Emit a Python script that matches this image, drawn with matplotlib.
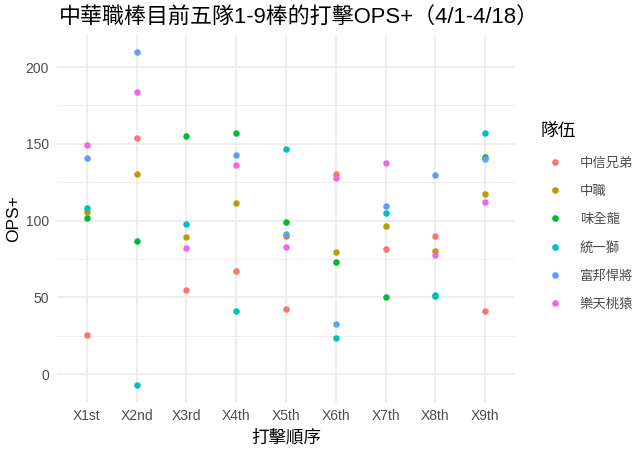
import matplotlib
matplotlib.use("Agg")
import matplotlib.pyplot as plt
from matplotlib.lines import Line2D

FONTS = ['Liberation Sans', 'Noto Sans CJK TC', 'DejaVu Sans']
plt.rcParams['font.family'] = FONTS

orders = ["X1st", "X2nd", "X3rd", "X4th", "X5th", "X6th", "X7th", "X8th", "X9th"]
teams = ["中信兄弟", "中職", "味全龍", "統一獅", "富邦悍將", "樂天桃猿"]
colors = ["#F8766D", "#B79F00", "#00BA38", "#00BFC4", "#619CFF", "#F564E3"]

ops_brothers = [25.5, 153.9, 54.7, 67.1, 42.6, 130.5, 81.2, 89.9, 40.8]
ops_cpbl     = [105.5, 130.3, 89.5, 111.6, 89.7, 79.7, 96.4, 80.1, 117.3]
ops_dragons  = [101.8, 86.4, 154.8, 156.8, 98.9, 73.2, 50.2, 50.6, 141.6]
ops_lions    = [108.3, -7.2, 97.5, 41.0, 146.8, 23.7, 105.1, 51.4, 157.2]
ops_guardians= [140.7, 209.8, None, 142.5, 91.4, 32.8, 109.7, 129.4, 140.3]
ops_monkeys  = [149.2, 183.9, 82.1, 136.4, 82.5, 127.7, 137.5, 77.7, 112.3]
series = [ops_brothers, ops_cpbl, ops_dragons, ops_lions, ops_guardians, ops_monkeys]

fig = plt.figure(figsize=(6.4, 4.55), dpi=100)
ax = fig.add_axes([0.0892, 0.1171, 0.7153, 0.8053])

xs = list(range(1, len(orders) + 1))
for vals, col in zip(series, colors):
    px = [x for x, v in zip(xs, vals) if v is not None]
    py = [v for v in vals if v is not None]
    ax.scatter(px, py, s=22, color=col, linewidths=0, zorder=3)

ax.set_xlim(0.4, 9.6)
ax.set_ylim(-18.05, 220.65)
ax.set_xticks(xs)
ax.set_xticklabels(orders)
ax.set_yticks([0, 50, 100, 150, 200])
ax.set_yticks([25, 75, 125, 175], minor=True)
ax.grid(True, which='major', color='#EBEBEB', linewidth=1.2, zorder=0)
ax.grid(True, which='minor', axis='y', color='#EBEBEB', linewidth=0.6, zorder=0)
ax.set_axisbelow(True)
for s in ax.spines.values():
    s.set_visible(False)
ax.tick_params(axis='both', which='both', length=0, colors='#4D4D4D', labelsize=10)
ax.tick_params(axis='y', pad=6)
ax.tick_params(axis='x', pad=5.5)

ax.set_xlabel("打擊順序", fontsize=12.6, color='black', labelpad=4)
ax.set_ylabel("OPS+", fontsize=12.5, color='black', labelpad=3)

fig.text(0.092, 0.962, "中華職棒目前五隊1-9棒的打擊OPS+（4/1-4/18）", fontsize=15.8,
         ha='left', va='center', color='black')

handles = [Line2D([0], [0], marker='o', linestyle='', markersize=4.8,
                  markerfacecolor=c, markeredgewidth=0) for c in colors]
leg = fig.legend(handles, teams, title="隊伍", loc='upper left',
                 bbox_to_anchor=(0.836, 0.741), frameon=False, fontsize=9.6,
                 title_fontsize=12.8, labelspacing=1.18, handletextpad=0.75,
                 handlelength=2.2, borderaxespad=0)
leg._legend_box.align = "left"
leg._legend_box.sep = 12.5
for t in leg.get_texts():
    t.set_color('#4D4D4D')

fig.savefig("out.png", dpi=100)
